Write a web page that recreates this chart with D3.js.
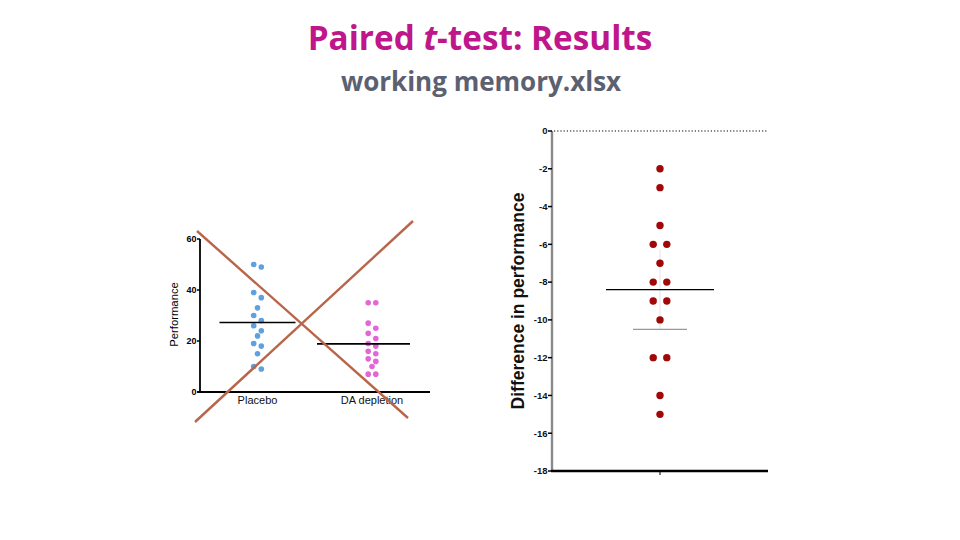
<!DOCTYPE html>
<html>
<head>
<meta charset="utf-8">
<script src="https://cdn.jsdelivr.net/npm/d3@7/dist/d3.min.js"></script>
<style>
  body { margin: 0; background: #fff; }
  svg { display: block; }
  text { font-family: "Liberation Sans", Arial, sans-serif; }
</style>
</head>
<body>
<div id="chart"></div>
<script>
// group data (performance scores)
var groups = ["Placebo", "DA depletion"];
var placebo = [50, 49, 39, 37, 33, 30, 28, 26, 24, 22, 19, 18, 15, 10, 9];
var daDepletion = [35, 35, 27, 25, 23, 21, 19, 18, 16, 15, 13, 12, 10, 7, 7];
var leftTicks = [0, 20, 40, 60];

// paired differences (DA depletion - Placebo)
var differences = [-2, -3, -5, -6, -6, -7, -8, -8, -9, -9, -10, -12, -12, -14, -15];
var diffTicks = [0, -2, -4, -6, -8, -10, -12, -14, -16, -18];
var diffErrLow = -10.5;   // lower limit drawn under the mean
var diffErrHigh = -6.3;

var W = 960, H = 540;

var svg = d3.select("#chart")
    .append("svg")
    .attr("width", W)
    .attr("height", H);

// title
var title = svg.append("text")
    .attr("x", 480)
    .attr("y", 49.5)
    .attr("text-anchor", "middle")
    .style("font-family", "'Open Sans', sans-serif")
    .style("font-weight", "bold")
    .style("font-size", "33.3px")
    .attr("fill", "#c0168c");
title.append("tspan").text("Paired ");
title.append("tspan").style("font-style", "italic").text("t");
title.append("tspan").text("-test: Results");

svg.append("text")
    .attr("x", 481)
    .attr("y", 90.5)
    .attr("text-anchor", "middle")
    .style("font-family", "'Open Sans', sans-serif")
    .style("font-weight", "bold")
    .style("font-size", "26px")
    .attr("fill", "#5b6170")
    .text("working memory.xlsx");

// spread points that sit close together, side by side around the column centre
function spread(values, yScale, near, step) {
    var order = values.map(function (v, i) { return { v: v, i: i }; })
        .sort(function (a, b) { return b.v - a.v; });
    var out = new Array(values.length);
    var k = 0;
    while (k < order.length) {
        var grp = [order[k]];
        var j = k + 1;
        while (j < order.length && Math.abs(yScale(order[j].v) - yScale(order[k].v)) <= near) {
            grp.push(order[j]);
            j++;
        }
        grp.forEach(function (p, n) {
            out[p.i] = (n - (grp.length - 1) / 2) * step;
        });
        k = j;
    }
    return out;
}

// ---------- left chart ----------
var yL = d3.scaleLinear().domain([0, 60]).range([392, 239]);
var xL = d3.scalePoint().domain(groups).range([257.5, 372]);
var axL = 200, axR = 430;

var left = svg.append("g");

left.append("line")
    .attr("x1", axL).attr("x2", axL)
    .attr("y1", yL(60)).attr("y2", yL(0))
    .attr("stroke", "#000").attr("stroke-width", 1.8);
left.append("line")
    .attr("x1", axL - 3).attr("x2", axR)
    .attr("y1", yL(0)).attr("y2", yL(0))
    .attr("stroke", "#000").attr("stroke-width", 2.2);

var lt = left.selectAll(".lt").data(leftTicks).enter().append("g")
    .attr("transform", function (d) { return "translate(0," + yL(d) + ")"; });
lt.append("line").attr("x1", axL - 3).attr("x2", axL).attr("stroke", "#000").attr("stroke-width", 1.5);
lt.append("text")
    .attr("x", axL - 3.5).attr("dy", "0.35em")
    .attr("text-anchor", "end")
    .style("font-size", "9px").style("font-weight", "bold")
    .text(function (d) { return d; });

left.selectAll(".cat").data(groups).enter().append("text")
    .attr("x", function (d) { return xL(d); })
    .attr("y", 403.5)
    .attr("text-anchor", "middle")
    .style("font-size", "11px")
    .attr("fill", "#111")
    .text(function (d) { return d; });

left.append("text")
    .attr("transform", "translate(178," + (yL(30) - 1) + ") rotate(-90)")
    .attr("text-anchor", "middle")
    .style("font-size", "11.3px")
    .text("Performance");

var leftSets = [
    { name: groups[0], vals: placebo, color: "#5ea0e0", mean: d3.mean(placebo), lo: 38, hi: 38 },
    { name: groups[1], vals: daDepletion, color: "#e466d6", mean: d3.mean(daDepletion), lo: 55, hi: 38 }
];

leftSets.forEach(function (s) {
    var off = spread(s.vals, yL, 5.5, 7.6);
    left.selectAll(null).data(s.vals).enter().append("circle")
        .attr("cx", function (d, i) { return xL(s.name) + off[i]; })
        .attr("cy", function (d) { return yL(d); })
        .attr("r", 2.8)
        .attr("fill", s.color);
    left.append("line")
        .attr("x1", xL(s.name) - s.lo).attr("x2", xL(s.name) + s.hi)
        .attr("y1", yL(s.mean)).attr("y2", yL(s.mean))
        .attr("stroke", "#000").attr("stroke-width", 1.6);
});

// cross drawn over the left chart
var cross = left.append("g")
    .attr("stroke", "#b8654a")
    .attr("stroke-width", 2.4);
cross.append("line")
    .attr("x1", axL - 3).attr("y1", yL(60) - 8)
    .attr("x2", axR - 22).attr("y2", yL(0) + 26);
cross.append("line")
    .attr("x1", axL - 5).attr("y1", yL(0) + 30)
    .attr("x2", axR - 17).attr("y2", yL(60) - 18);

// ---------- right chart ----------
var yR = d3.scaleLinear().domain([-18, 0]).range([471, 131]);
var rL = 552, rR = 768, rC = 660;

var right = svg.append("g");

right.append("line")
    .attr("x1", rL + 2).attr("x2", rR)
    .attr("y1", yR(0)).attr("y2", yR(0))
    .attr("stroke", "#000").attr("stroke-width", 1)
    .attr("stroke-dasharray", "1.2,2");

right.append("line")
    .attr("x1", rL).attr("x2", rL)
    .attr("y1", yR(0)).attr("y2", yR(-18))
    .attr("stroke", "#8a8a8a").attr("stroke-width", 2.4);

right.append("line")
    .attr("x1", rL - 1).attr("x2", rR)
    .attr("y1", yR(-18)).attr("y2", yR(-18))
    .attr("stroke", "#000").attr("stroke-width", 2.6);

right.append("line")
    .attr("x1", rC).attr("x2", rC)
    .attr("y1", yR(-18)).attr("y2", yR(-18) + 4)
    .attr("stroke", "#000").attr("stroke-width", 1);

var rt = right.selectAll(".rt").data(diffTicks).enter().append("g")
    .attr("transform", function (d) { return "translate(0," + yR(d) + ")"; });
rt.append("line").attr("x1", rL - 4).attr("x2", rL).attr("stroke", "#000").attr("stroke-width", 1.5);
rt.append("text")
    .attr("x", rL - 4.5).attr("dy", "0.35em")
    .attr("text-anchor", "end")
    .style("font-size", "9.5px").style("font-weight", "bold")
    .attr("fill", "#111")
    .text(function (d) { return d; });

right.append("text")
    .attr("transform", "translate(524," + yR(-9) + ") rotate(-90)")
    .attr("text-anchor", "middle")
    .style("font-size", "17.5px").style("font-weight", "bold")
    .attr("fill", "#111")
    .text("Difference in performance");

// faint error bar and its lower limit
right.append("line")
    .attr("x1", rC).attr("x2", rC)
    .attr("y1", yR(diffErrHigh)).attr("y2", yR(diffErrLow))
    .attr("stroke", "#e4e4e4").attr("stroke-width", 1);
right.append("line")
    .attr("x1", rC - 27).attr("x2", rC + 27)
    .attr("y1", yR(diffErrLow)).attr("y2", yR(diffErrLow))
    .attr("stroke", "#999").attr("stroke-width", 1.3);

var dOff = spread(differences, yR, 3, 13.6);
right.selectAll(".dot").data(differences).enter().append("circle")
    .attr("cx", function (d, i) { return rC + dOff[i]; })
    .attr("cy", function (d) { return yR(d); })
    .attr("r", 3.7)
    .attr("fill", "#a10808");

var dMean = d3.mean(differences);
right.append("line")
    .attr("x1", rC - 54).attr("x2", rC + 54)
    .attr("y1", yR(dMean)).attr("y2", yR(dMean))
    .attr("stroke", "#000").attr("stroke-width", 1.3);
</script>
</body>
</html>
